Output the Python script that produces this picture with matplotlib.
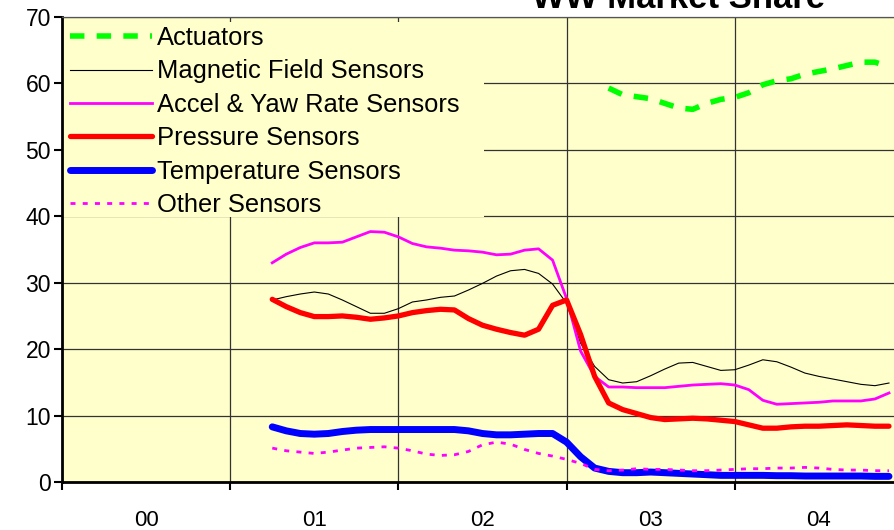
import matplotlib
matplotlib.use("Agg")
import matplotlib.pyplot as plt
from matplotlib.patches import Rectangle
import numpy as np

plt.rcParams['font.family'] = ['Liberation Sans', 'DejaVu Sans']

# Monthly series, month index 0 = Jan 2000
year_labels = ["00", "01", "02", "03", "04"]

start_main = 15   # Apr 2001
magnetic = [27.4, 27.9, 28.3, 28.6, 28.3, 27.4, 26.4, 25.4, 25.4, 26.1,
            27.1, 27.4, 27.8, 28.0, 28.9, 29.9, 31.0, 31.8, 32.0, 31.4,
            29.8, 26.9, 20.9, 17.4, 15.4, 14.9, 15.1, 16.0, 17.0, 17.9,
            18.0, 17.4, 16.8, 16.9, 17.6, 18.4, 18.1, 17.3, 16.4, 15.9,
            15.5, 15.1, 14.7, 14.5, 14.9]
accel_yaw = [33.0, 34.3, 35.3, 36.0, 36.0, 36.1, 36.9, 37.7, 37.6, 36.9,
             35.9, 35.4, 35.2, 34.9, 34.8, 34.6, 34.2, 34.3, 34.9, 35.1,
             33.4, 27.6, 19.7, 15.9, 14.3, 14.3, 14.2, 14.2, 14.2, 14.4,
             14.6, 14.7, 14.8, 14.6, 13.9, 12.3, 11.7, 11.8, 11.9, 12.0,
             12.2, 12.2, 12.2, 12.5, 13.4]
pressure = [27.5, 26.4, 25.5, 24.9, 24.9, 25.0, 24.8, 24.5, 24.7, 25.0,
            25.5, 25.8, 26.0, 25.9, 24.6, 23.6, 23.0, 22.5, 22.1, 23.0,
            26.6, 27.4, 22.2, 15.9, 11.9, 10.9, 10.3, 9.7, 9.4, 9.5,
            9.6, 9.5, 9.3, 9.1, 8.6, 8.1, 8.1, 8.3, 8.4, 8.4,
            8.5, 8.6, 8.5, 8.4, 8.4]
temperature = [8.3, 7.7, 7.3, 7.2, 7.3, 7.6, 7.8, 7.9, 7.9, 7.9,
               7.9, 7.9, 7.9, 7.9, 7.7, 7.3, 7.1, 7.1, 7.2, 7.3,
               7.3, 6.0, 3.8, 2.1, 1.6, 1.4, 1.4, 1.5, 1.4, 1.3,
               1.2, 1.1, 1.0, 1.0, 1.0, 1.0, 0.95, 0.95, 0.9, 0.9,
               0.9, 0.9, 0.9, 0.85, 0.85]
other = [5.1, 4.7, 4.5, 4.3, 4.5, 4.8, 5.1, 5.2, 5.3, 5.1,
         4.7, 4.2, 4.0, 4.1, 4.6, 5.6, 6.0, 5.7, 4.9, 4.3,
         3.9, 3.4, 2.8, 1.9, 1.7, 1.8, 2.0, 1.9, 1.9, 1.8,
         1.7, 1.7, 1.8, 1.9, 2.0, 2.0, 2.1, 2.1, 2.2, 2.1,
         1.9, 1.8, 1.8, 1.7, 1.7]

start_act = 39    # Apr 2003
actuators = [59.3, 58.3, 58.0, 57.7, 57.0, 56.3, 56.1, 57.0, 57.6, 57.9,
             58.6, 59.8, 60.4, 60.7, 61.4, 61.8, 62.2, 62.7, 63.2, 63.2,
             62.5]

x_main = np.arange(start_main, start_main + len(magnetic))
x_act = np.arange(start_act, start_act + len(actuators))

BG = '#FFFFCC'
W, H = 894, 530
fig = plt.figure(figsize=(W / 100, H / 100), dpi=100)
fig.patch.set_facecolor('white')

# axes run slightly past the right edge of the canvas
left, right, bottom, top = 62, 903, 482, 17
ax_w, ax_h = right - left, bottom - top
ax = fig.add_axes([left / W, (H - bottom) / H, ax_w / W, ax_h / H])
ax.set_facecolor(BG)

ax.plot(x_act, actuators, color='#00FF00', lw=4.0, ls=(0, (2.6, 2.2)),
        label='Actuators', dash_capstyle='butt')
ax.plot(x_main, magnetic, color='black', lw=0.8, label='Magnetic Field Sensors')
ax.plot(x_main, accel_yaw, color='#FF00FF', lw=2.0, label='Accel & Yaw Rate Sensors')
ax.plot(x_main, pressure, color='#FF0000', lw=3.8, label='Pressure Sensors',
        solid_capstyle='round')
ax.plot(x_main, temperature, color='#0000FF', lw=5.0, label='Temperature Sensors',
        solid_capstyle='round')
ax.plot(x_main, other, color='#FF00FF', lw=2.0, ls=(0, (1.8, 2.6)), label='Other Sensors')

ax.set_xlim(0, 60)
ax.set_ylim(0, 70)
ax.set_yticks(np.arange(0, 71, 10))

ax.set_xticks(np.arange(0, 61, 12))
ax.set_xticklabels([])
ax.set_xticks(np.arange(6, 60, 12), minor=True)
ax.set_xticklabels(year_labels, minor=True)

ax.tick_params(axis='y', which='major', direction='out', length=6, width=1.5,
               labelsize=16.5, pad=2)
ax.tick_params(axis='x', which='major', direction='out', length=6, width=1.5)
ax.tick_params(axis='x', which='minor', length=0, labelsize=16, pad=19.8)

ax.grid(True, which='major', color='#333333', lw=0.9)
ax.set_axisbelow(True)

for s in ('left', 'bottom'):
    ax.spines[s].set_linewidth(2.0)
    ax.spines[s].set_color('black')
ax.spines['top'].set_color('#555555')
ax.spines['top'].set_linewidth(0.9)
ax.spines['right'].set_visible(False)

# legend panel hides the grid behind it
box_x1, box_y0, box_y1 = 484, 22, 217
ax.add_patch(Rectangle((0, (bottom - box_y1) / ax_h), (box_x1 - left) / ax_w,
                       (box_y1 - box_y0) / ax_h, transform=ax.transAxes,
                       facecolor=BG, edgecolor='none', zorder=1))

leg = ax.legend(loc='upper left',
                bbox_to_anchor=(8 / ax_w, (bottom - box_y0 - 4) / ax_h),
                fontsize=18.4, frameon=False,
                handlelength=3.2, handletextpad=0.2, labelspacing=0.37,
                borderpad=0.0, borderaxespad=0.0)

fig.text(679 / W, 1 - 8 / H, 'WW Market Share', ha='center', va='baseline',
         fontsize=25, fontweight='bold')

fig.savefig('out.png', dpi=100, facecolor='white')
